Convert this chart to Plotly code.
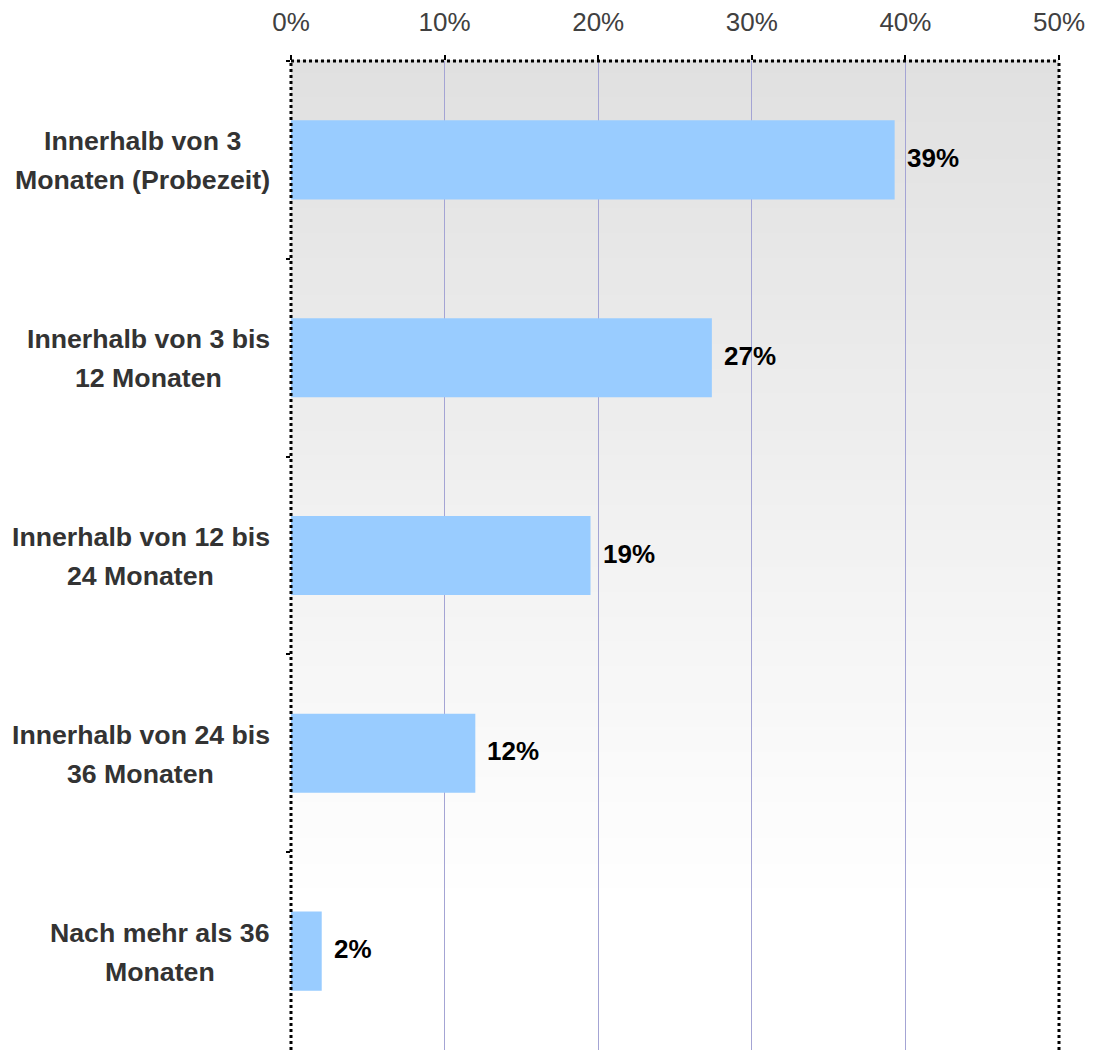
import plotly.graph_objects as go

categories = [
    "Innerhalb von 3<br>Monaten (Probezeit)",
    "Innerhalb von 3 bis<br>12 Monaten",
    "Innerhalb von 12 bis<br>24 Monaten",
    "Innerhalb von 24 bis<br>36 Monaten",
    "Nach mehr als 36<br>Monaten",
]
values = [39.3, 27.4, 19.5, 12.0, 2.0]
value_labels = ["39%", "27%", "19%", "12%", "2%"]
x_ticks = [0, 10, 20, 30, 40, 50]
x_tick_labels = ["0%", "10%", "20%", "30%", "40%", "50%"]

FONT = "Liberation Sans, Arial, sans-serif"
LABEL_SIZE = 26.7
PLOT_W = 768.0
LABEL_RIGHT_GAP = 21.0  # px between label block right edge and plot left edge

# Arial/Liberation Sans Bold advance widths (em) for measuring label lines
BOLD_W = {" ": .278, "(": .333, ")": .333, "0": .556, "1": .556, "2": .556, "3": .556,
          "4": .556, "6": .556, "I": .278, "M": .833, "N": .722, "P": .667, "a": .556,
          "b": .611, "e": .556, "h": .611, "i": .278, "l": .278, "m": .889, "n": .611,
          "o": .611, "r": .389, "s": .556, "t": .333, "v": .556, "z": .5}


def text_w(s):
    return sum(BOLD_W.get(ch, .6) for ch in s) * LABEL_SIZE


fig = go.Figure()
fig.add_trace(go.Bar(
    y=categories, x=values, orientation="h",
    marker=dict(color="#99ccff", line=dict(width=0)),
    hoverinfo="skip",
))

# gradient background strips
shapes = []
n = 80
for i in range(n):
    t = min(1.0, (i + 0.5) / n / 0.85)
    c = int(round(224 + (255 - 224) * t))
    shapes.append(dict(type="rect", xref="paper", yref="paper",
                       x0=0, x1=1, y0=1 - (i + 1) / n, y1=1 - i / n + 0.001,
                       fillcolor=f"rgb({c},{c},{c})", line=dict(width=0), layer="below"))
# dotted borders
for (x0, y0, x1, y1) in [(0, 0, 0, 1), (0, 1, 1, 1), (1, 0, 1, 1)]:
    shapes.append(dict(type="line", xref="paper", yref="paper", x0=x0, y0=y0, x1=x1, y1=y1,
                       line=dict(color="black", width=3, dash="dot"), layer="above"))

annotations = []
for cat in categories:
    lines = cat.split("<br>")
    k = len(lines)
    maxw = max(text_w(s) for s in lines)
    center_px = -LABEL_RIGHT_GAP - maxw / 2
    for j, line in enumerate(lines):
        annotations.append(dict(
            x=center_px / PLOT_W, xref="paper", y=cat, yref="y", text=line, showarrow=False,
            xanchor="center", yanchor="middle", align="center",
            yshift=(k - 1) / 2 * 39 - j * 39 - 1,
            font=dict(family=FONT, size=LABEL_SIZE, color="#333333", weight="bold"),
        ))
for cat, v, lab in zip(categories, values, value_labels):
    annotations.append(dict(
        x=v, xref="x", y=cat, yref="y", text=lab, showarrow=False,
        xanchor="left", yanchor="middle", xshift=10, yshift=2,
        font=dict(family=FONT, size=26, color="black", weight="bold"),
    ))

fig.update_layout(
    width=1088, height=1042,
    margin=dict(l=283, r=37, t=53, b=0),
    paper_bgcolor="white", plot_bgcolor="rgba(0,0,0,0)",
    showlegend=False, bargap=0.6,
    shapes=shapes, annotations=annotations,
    xaxis=dict(
        side="top", range=[0, 50], tickvals=x_ticks, ticktext=x_tick_labels,
        showgrid=True, gridcolor="#a4a4d4", gridwidth=1, zeroline=False,
        ticks="outside", ticklen=5, tickwidth=2, tickcolor="black",
        tickfont=dict(family=FONT, size=26, color="#404040"),
        ticklabelstandoff=14, showline=False,
    ),
    yaxis=dict(
        autorange="reversed", showticklabels=False, showgrid=False, zeroline=False,
        ticks="outside", ticklen=4, tickwidth=2, tickcolor="black", tickson="boundaries",
        showline=False,
    ),
)

fig.write_html("out.html")
